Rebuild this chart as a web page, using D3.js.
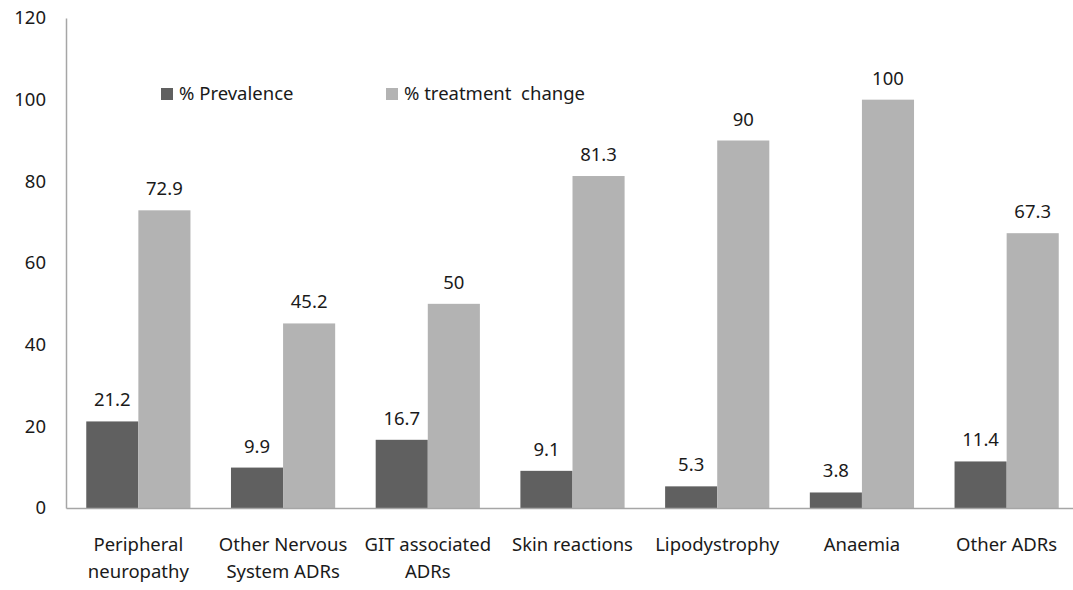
<!DOCTYPE html>
<html>
<head>
<meta charset="utf-8">
<script src="https://cdn.jsdelivr.net/npm/d3@7"></script>
<style>
  body { margin: 0; background: #fff; }
  svg text { font-family: "Noto Sans", "Open Sans", sans-serif; fill: #1a1a1a; }
</style>
</head>
<body>
<svg id="chart" width="1073" height="590"></svg>
<script>
// data
var categories = [
  ["Peripheral", "neuropathy"],
  ["Other Nervous", "System ADRs"],
  ["GIT associated", "ADRs"],
  ["Skin reactions"],
  ["Lipodystrophy"],
  ["Anaemia"],
  ["Other ADRs"]
];
var prevalence = [21.2, 9.9, 16.7, 9.1, 5.3, 3.8, 11.4];
var treatmentChange = [72.9, 45.2, 50, 81.3, 90, 100, 67.3];
var seriesNames = ["% Prevalence", "% treatment  change"];
var seriesColors = ["#606060", "#b3b3b3"];
var yTicks = [0, 20, 40, 60, 80, 100, 120];

var fs = "18.5px";
var m = {top: 18, right: -6, bottom: 82, left: 66},
    W = 1073, H = 590,
    w = W - m.left - m.right,
    h = H - m.top - m.bottom;

var svg = d3.select("#chart");
var g = svg.append("g").attr("transform", "translate(" + m.left + "," + m.top + ")");

var x0 = d3.scaleBand()
    .domain(d3.range(categories.length))
    .range([0, w])
    .paddingInner(0.28)
    .paddingOuter(0.14);
var x1 = d3.scaleBand()
    .domain([0, 1])
    .range([0, x0.bandwidth()]);
var y = d3.scaleLinear().domain([0, 120]).range([h, 0]);

var rows = categories.map(function (c, i) {
  return {i: i, vals: [prevalence[i], treatmentChange[i]]};
});

// bars
var groups = g.selectAll(".grp")
  .data(rows)
  .enter().append("g")
  .attr("transform", function (d) { return "translate(" + x0(d.i) + ",0)"; });

groups.selectAll("rect")
  .data(function (d) { return d.vals.map(function (v, k) { return {k: k, v: v}; }); })
  .enter().append("rect")
  .attr("x", function (d) { return x1(d.k); })
  .attr("y", function (d) { return y(d.v); })
  .attr("width", x1.bandwidth())
  .attr("height", function (d) { return h - y(d.v); })
  .attr("fill", function (d) { return seriesColors[d.k]; });

groups.selectAll(".val")
  .data(function (d) { return d.vals.map(function (v, k) { return {k: k, v: v}; }); })
  .enter().append("text")
  .attr("class", "val")
  .attr("x", function (d) { return x1(d.k) + x1.bandwidth() / 2; })
  .attr("y", function (d) { return y(d.v) - 15; })
  .attr("text-anchor", "middle")
  .style("font-size", fs)
  .text(function (d) { return d.v; });

// y axis
var yAxis = g.append("g")
  .call(d3.axisLeft(y).tickValues(yTicks).tickSize(0).tickPadding(20));
yAxis.select(".domain").attr("stroke", "#a6a6a6").attr("stroke-width", 1.5);
yAxis.selectAll("text").style("font-size", fs).attr("fill", "#1a1a1a");

// x axis
var xAxis = g.append("g")
  .attr("transform", "translate(0," + h + ")")
  .call(d3.axisBottom(x0).tickSize(0).tickFormat(""));
xAxis.select(".domain").attr("stroke", "#a6a6a6").attr("stroke-width", 1.5);

xAxis.selectAll(".tick").each(function (d) {
  var t = d3.select(this).append("text")
    .attr("text-anchor", "middle")
    .style("font-size", fs);
  categories[d].forEach(function (line, j) {
    t.append("tspan").attr("x", 0).attr("y", 43 + j * 27).text(line);
  });
});

// legend
var legend = svg.append("g").attr("transform", "translate(161,88)");
var lx = [0, 225];
seriesNames.forEach(function (name, k) {
  legend.append("rect")
    .attr("x", lx[k]).attr("y", 0)
    .attr("width", 12).attr("height", 12)
    .attr("fill", seriesColors[k]);
  legend.append("text")
    .attr("x", lx[k] + 18).attr("y", 12)
    .style("font-size", fs)
    .style("white-space", "pre")
    .attr("xml:space", "preserve")
    .text(name);
});
</script>
</body>
</html>
